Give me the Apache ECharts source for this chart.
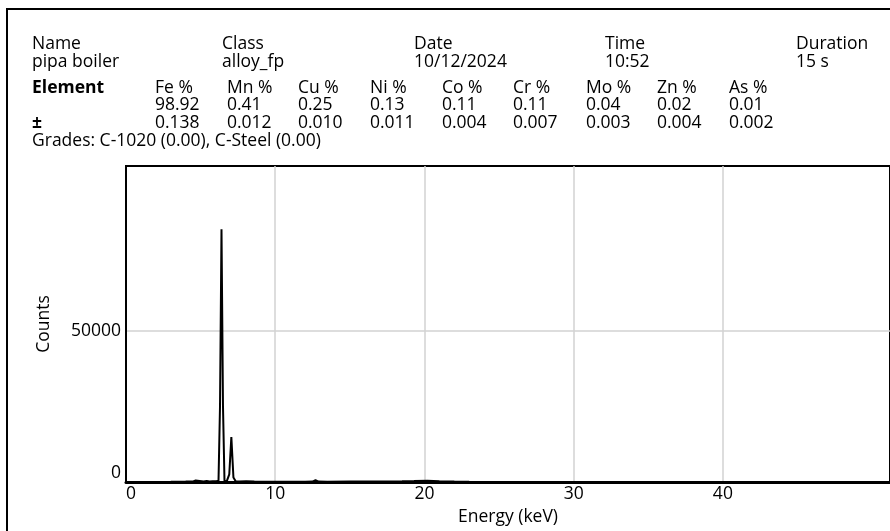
<!DOCTYPE html>
<html>
<head>
<meta charset="utf-8">
<script src="https://cdn.jsdelivr.net/npm/echarts@6/dist/echarts.min.js"></script>
<style>
    html, body { margin: 0; padding: 0; background: #fff; }
    #chart { width: 890px; height: 531px; }
</style>
</head>
<body>
<div id="chart"></div>
<script>
    // sample info
    var sampleName = 'pipa boiler';
    var sampleClass = 'alloy_fp';
    var sampleDate = '10/12/2024';
    var sampleTime = '10:52';
    var sampleDuration = '15 s';
    var grades = 'Grades: C-1020 (0.00), C-Steel (0.00)';

    // element results
    var elements = ['Fe %', 'Mn %', 'Cu %', 'Ni %', 'Co %', 'Cr %', 'Mo %', 'Zn %', 'As %'];
    var percents = ['98.92', '0.41', '0.25', '0.13', '0.11', '0.11', '0.04', '0.02', '0.01'];
    var errors = ['0.138', '0.012', '0.010', '0.011', '0.004', '0.007', '0.003', '0.004', '0.002'];

    // spectrum (keV, counts)
    var energy = [0, 1.0, 2.0, 3.0, 4.0, 4.5, 4.67, 4.8, 5.2, 5.41, 5.6, 5.8, 5.9, 6.05, 6.2, 6.3, 6.4, 6.5,
        6.6, 6.75, 6.92, 7.06, 7.2, 7.35, 7.6, 8.05, 8.6, 9.0, 10.0, 11.0, 12.0, 12.5, 12.7, 12.9,
        13.5, 15.0, 17.0, 18.5, 19.3, 20.2, 21.0, 22.0, 23.0, 25.0, 28.0, 35.0, 45.0, 51.2];
    var counts = [0, 0, 30, 80, 150, 200, 500, 200, 180, 350, 200, 250, 450, 250, 400, 25000, 83700, 25000,
        400, 200, 2500, 14900, 1500, 250, 200, 220, 150, 120, 100, 100, 120, 150, 600, 150,
        120, 140, 170, 250, 320, 420, 250, 150, 80, 30, 0, 0, 0, 0];

    var xTicks = [0, 10, 20, 30, 40];
    var yTicks = [0, 50000];

    var spectrum = energy.map(function(e, i) {
        return [e, counts[i]];
    });

    var font = 'Open Sans';
    var fs = 17.5;

    function txt(x, y, s, bold) {
        return {
            type: 'text',
            left: x,
            top: y,
            style: {
                text: s,
                font: (bold ? 'bold ' : '') + fs + 'px "' + font + '"',
                fill: '#000'
            }
        };
    }

    var graphics = [];
    // outer frame
    graphics.push({
        type: 'rect',
        shape: { x: 7, y: 9, width: 1000, height: 600 },
        style: { fill: 'none', stroke: '#000', lineWidth: 2 },
        silent: true
    });
    var headCols = [32, 222, 414, 605, 796];
    var headTitles = ['Name', 'Class', 'Date', 'Time', 'Duration'];
    var headValues = [sampleName, sampleClass, sampleDate, sampleTime, sampleDuration];
    headTitles.forEach(function(t, i) {
        graphics.push(txt(headCols[i], 35, t));
        graphics.push(txt(headCols[i], 53, headValues[i]));
    });
    var elCols = [155, 227, 298, 370, 442, 513, 586, 657, 729];
    graphics.push(txt(32, 79, 'Element', true));
    graphics.push(txt(32, 114, '±', true));
    elements.forEach(function(el, i) {
        graphics.push(txt(elCols[i], 79, el));
        graphics.push(txt(elCols[i], 96, percents[i]));
        graphics.push(txt(elCols[i], 114, errors[i]));
    });
    graphics.push(txt(32, 132, grades));

    var chart = echarts.init(document.getElementById('chart'));
    chart.setOption({
        backgroundColor: '#fff',
        animation: false,
        textStyle: { fontFamily: font },
        graphic: graphics,
        grid: {
            left: 126,
            right: -4,
            top: 166,
            bottom: 49,
            show: true,
            borderColor: '#000',
            borderWidth: 2
        },
        xAxis: {
            type: 'value',
            min: 0,
            max: 51.2,
            name: 'Energy (keV)',
            nameLocation: 'middle',
            nameGap: 22,
            nameTextStyle: { color: '#000', fontSize: fs },
            axisLine: { show: true, lineStyle: { color: '#000', width: 3 } },
            axisTick: { show: false, customValues: xTicks },
            axisLabel: {
                customValues: xTicks,
                color: '#000',
                fontSize: fs,
                margin: 3,
                alignMinLabel: 'left'
            },
            splitLine: { show: true, lineStyle: { color: '#d2d2d2', width: 1.5 } }
        },
        yAxis: {
            type: 'value',
            min: 0,
            max: function(v) { return v.max * 1.25; },
            name: 'Counts',
            nameLocation: 'middle',
            nameGap: 73,
            nameRotate: 90,
            nameTextStyle: { color: '#000', fontSize: fs },
            axisLine: { show: true, lineStyle: { color: '#000', width: 2 } },
            axisTick: { show: false, customValues: yTicks },
            axisLabel: {
                customValues: yTicks,
                formatter: function(v) { return String(v); },
                color: '#000',
                fontSize: fs,
                margin: 5,
                verticalAlignMinLabel: 'bottom'
            },
            splitLine: { show: true, lineStyle: { color: '#d2d2d2', width: 1.5 } }
        },
        series: [{
            type: 'line',
            data: spectrum,
            showSymbol: false,
            lineStyle: { color: '#000', width: 2 },
            z: 3
        }]
    });
</script>
</body>
</html>
